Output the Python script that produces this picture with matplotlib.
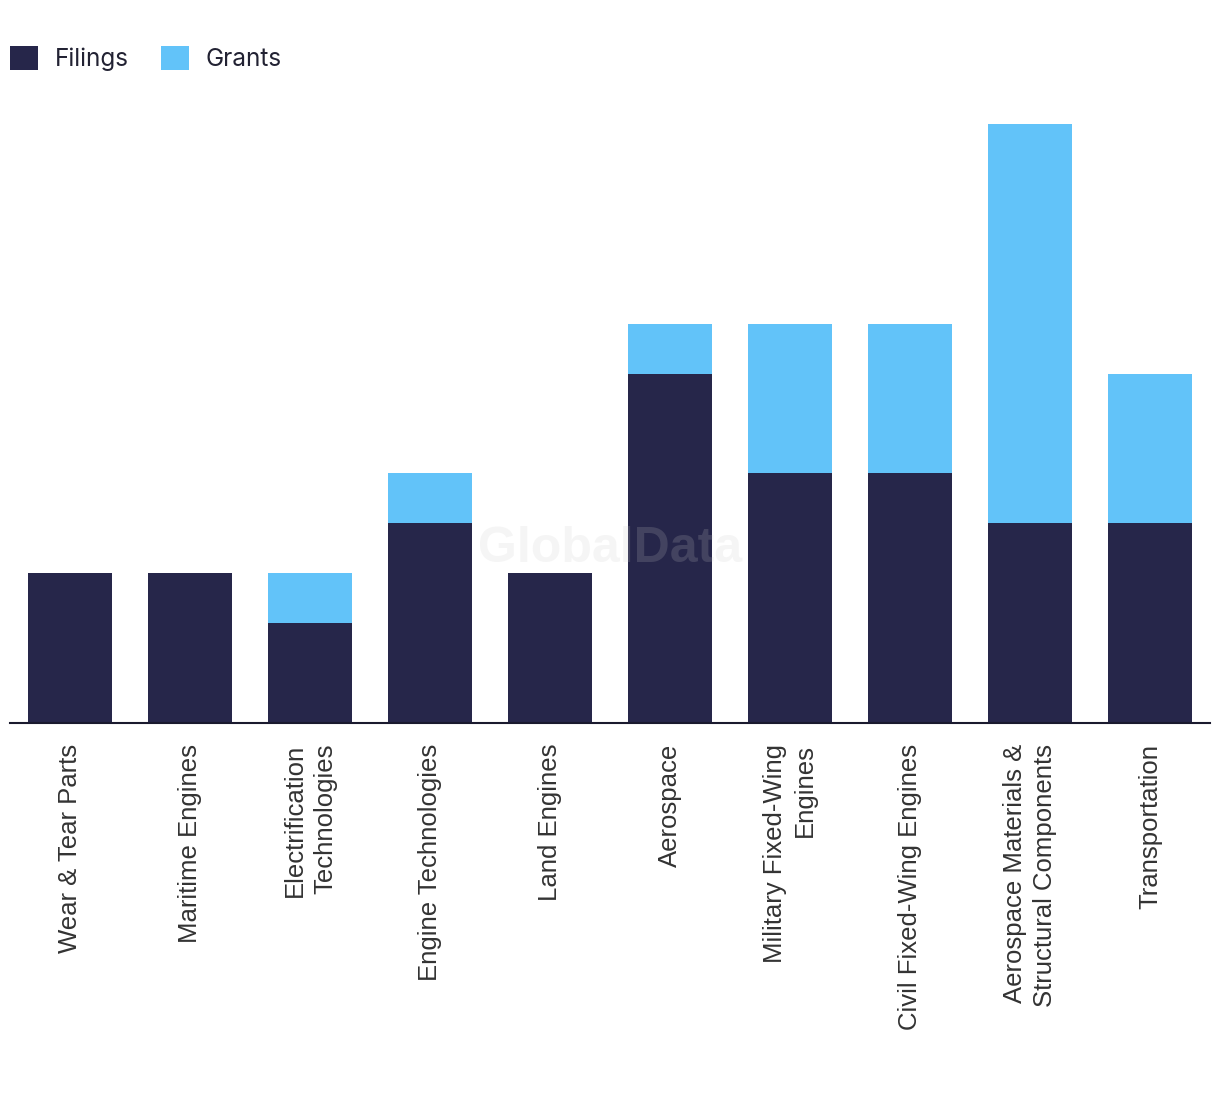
import matplotlib.pyplot as plt
import numpy as np

# categories and values
categories = ["Wear & Tear Parts", "Maritime Engines", "Electrification\nTechnologies",
              "Engine Technologies", "Land Engines", "Aerospace",
              "Military Fixed-Wing\nEngines", "Civil Fixed-Wing Engines",
              "Aerospace Materials &\nStructural Components", "Transportation"]
filings = [3, 3, 2, 4, 3, 7, 5, 5, 4, 4]
grants = [0, 0, 1, 1, 0, 1, 3, 3, 8, 3]

navy = "#26264a"
blue = "#62c3f9"

fig = plt.figure(figsize=(12.2, 10.94), dpi=100)
ax = fig.add_axes([10/1220, 1 - 723/1094, 1200/1220, (723 - 124)/1094])

x = np.arange(len(categories))
ax.bar(x, filings, width=0.7, color=navy, label="Filings")
ax.bar(x, grants, width=0.7, bottom=filings, color=blue, label="Grants")

ax.set_xlim(-0.5, len(categories) - 0.5)
ax.set_ylim(0, 12)
ax.set_yticks([])
ax.set_xticks(x)
ax.set_xticklabels(categories, rotation=90, ha="center", va="top",
                   fontsize=18.5, color="#333333", family="Liberation Sans",
                   multialignment="right", linespacing=1.32)
ax.tick_params(axis="x", length=0, pad=15)
for s in ["top", "right", "left"]:
    ax.spines[s].set_visible(False)
ax.spines["bottom"].set_color("#1a1a2e")
ax.spines["bottom"].set_linewidth(1.5)

# watermark
ax.text(0.5, 0.29, "GlobalData", transform=ax.transAxes, ha="center", va="center",
        fontsize=36, fontweight="bold", color="#c9c9c9", alpha=0.18, family="Liberation Sans")

leg = fig.legend(loc="upper left", bbox_to_anchor=(10/1220, 1 - 46/1094), ncol=2, frameon=False,
                 handlelength=1.15, handleheight=1.15, handletextpad=0.7,
                 columnspacing=1.3, borderpad=0, borderaxespad=0,
                 prop={"family": "Inter", "size": 17.5})
for t in leg.get_texts():
    t.set_color("#222233")

fig.savefig("out.png", dpi=100)
